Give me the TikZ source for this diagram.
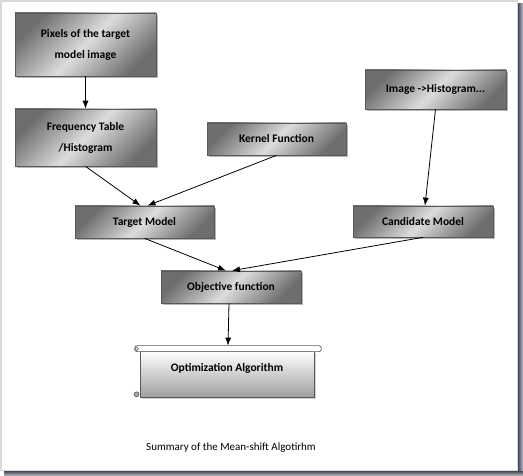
\documentclass[tikz,border=0pt]{standalone}
\usepackage{fontspec}
\setmainfont{Carlito}
\usetikzlibrary{arrows.meta}
\usetikzlibrary{shadows}
\definecolor{boxdark}{HTML}{6E6E6E}
\definecolor{boxlight}{HTML}{DCDCDC}
\definecolor{framegray}{HTML}{D9D9D9}
\definecolor{shadowblue}{HTML}{434958}
\tikzset{
  box/.style={draw=gray!70!black, line width=.7pt, left color=boxdark, right color=boxdark,
    middle color=boxlight, shading angle=45, align=center, inner sep=0pt,
    font=\fontsize{11.5}{21}\selectfont\bfseries,
    drop shadow={shadow xshift=2pt, shadow yshift=-2pt, fill=gray!80, opacity=.7}},
  scrollbox/.style={draw=gray!70!black, line width=.7pt, top color=white, bottom color=gray!75,
    font=\fontsize{11.5}{13}\selectfont\bfseries, text height=8pt, text depth=14pt,
    drop shadow={shadow xshift=2pt, shadow yshift=-2pt, fill=gray!60, opacity=.6}},
  arr/.style={-{Latex[length=8pt,width=6pt]}, line width=.8pt},
}

\begin{document}
\begin{tikzpicture}[x=1pt,y=-1pt]
\useasboundingbox (0,0) rectangle (523,476);
% the frame
\fill[framegray] (0,0) rectangle (518,471);
\fill[white] (2,2) rectangle (517,470);
\shade[left color=shadowblue, right color=shadowblue!35] (518,4) rectangle (523,476);
\shade[top color=shadowblue, bottom color=shadowblue!35] (4,471) rectangle (523,476);
% the boxes
\node[box, minimum width=141pt, minimum height=63pt] (pix) at (85.5,44.5) {Pixels of the target\\model image};
\node[box, minimum width=141pt, minimum height=57pt] (freq) at (85.5,137.5) {Frequency Table\\/Histogram};
\node[box, minimum width=139pt, minimum height=32pt] (kern) at (276.5,139) {Kernel Function};
\node[box, minimum width=141pt, minimum height=39pt] (img) at (435.5,89.5) {Image ->Histogram...};
\node[box, minimum width=139pt, minimum height=32pt] (targ) at (144.5,222) {Target Model};
\node[box, minimum width=140pt, minimum height=31pt] (cand) at (423,221.5) {Candidate Model};
\node[box, minimum width=140pt, minimum height=32pt] (obj) at (231,287) {Objective function};
% the scroll
\node[scrollbox, minimum width=174pt, minimum height=46pt] (opt) at (227,374) {Optimization Algorithm};
\draw[draw=gray!70!black, line width=.7pt, fill=white, rounded corners=2.5pt]
  ([shift={(-5pt,5pt)}]opt.north west) rectangle ([shift={(7pt,-1pt)}]opt.north east);
\draw[draw=gray!70!black, line width=.6pt, fill=white] ([shift={(-3pt,2pt)}]opt.north west) circle (1.8pt);
\draw[draw=gray!70!black, line width=.6pt, fill=gray!70] ([shift={(-3pt,3pt)}]opt.south west) circle (2.5pt);
\coordinate (optin) at ([yshift=5pt]opt.north);
% the arrows
\draw[arr] (pix.south) -- (freq.north);
\draw[arr] (freq.south) -- ([xshift=-4pt]targ.north);
\draw[arr] (kern.south) -- ([xshift=3pt]targ.north);
\draw[arr] (img.south) -- ([xshift=2pt]cand.north);
\draw[arr] (targ.south) -- ([xshift=-5pt]obj.north);
\draw[arr] (cand.south) -- ([xshift=1pt]obj.north);
\draw[arr] ([xshift=-2pt]obj.south) -- ([xshift=1pt]optin);
% caption
\node[font=\fontsize{11}{13}\selectfont] (cap) at (231,448) {Summary of the Mean-shift Algotirhm};
\end{tikzpicture}
\end{document}
